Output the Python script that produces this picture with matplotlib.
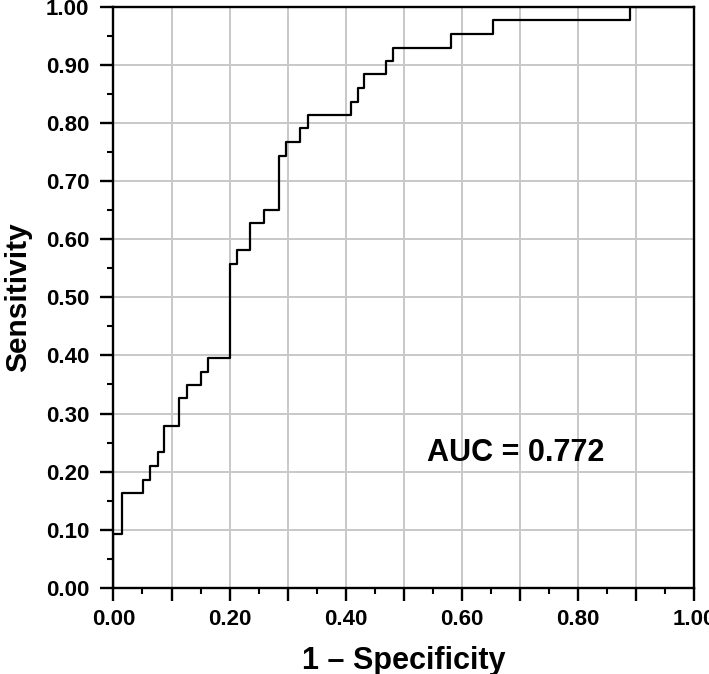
import numpy as np
import matplotlib
matplotlib.use("Agg")
import matplotlib.pyplot as plt
from matplotlib.ticker import MultipleLocator, FixedLocator, FixedFormatter

plt.rcParams['font.family'] = ['Liberation Sans', 'DejaVu Sans']

# ROC curve vertices (1 - specificity, sensitivity)
fpr = [0, 0, 0.014, 0.051, 0.063, 0.076, 0.087, 0.113, 0.126, 0.150, 0.162,
       0.200, 0.212, 0.236, 0.260, 0.285, 0.298, 0.322, 0.335, 0.409, 0.421,
       0.432, 0.470, 0.482, 0.581, 0.654, 0.889, 1.0]
tpr = [0, 0.093, 0.163, 0.186, 0.209, 0.233, 0.279, 0.326, 0.349, 0.372, 0.395,
       0.558, 0.581, 0.628, 0.651, 0.744, 0.767, 0.791, 0.814, 0.837, 0.860,
       0.884, 0.907, 0.930, 0.953, 0.977, 1.0, 1.0]
auc_text = "AUC = 0.772"

x_ticks = [i / 10 for i in range(11)]
x_labels = ["%.2f" % v if i % 2 == 0 else "" for i, v in enumerate(x_ticks)]
y_ticks = [i / 10 for i in range(11)]
y_labels = ["%.2f" % v for v in y_ticks]

fig = plt.figure(figsize=(7.09, 6.74), dpi=100)
ax = fig.add_axes([0.160, 0.128, 0.819, 0.8616])

ax.plot(fpr, tpr, drawstyle="steps-post", color="black", lw=1.6, zorder=3)

ax.set_xlim(0, 1)
ax.set_ylim(0, 1)
ax.xaxis.set_major_locator(FixedLocator(x_ticks))
ax.xaxis.set_major_formatter(FixedFormatter(x_labels))
ax.yaxis.set_major_locator(FixedLocator(y_ticks))
ax.yaxis.set_major_formatter(FixedFormatter(y_labels))
ax.xaxis.set_minor_locator(MultipleLocator(0.05))
ax.yaxis.set_minor_locator(MultipleLocator(0.05))

ax.grid(True, which="major", color="#c8c8c8", lw=1.4, zorder=0)
ax.set_axisbelow(True)

for s in ax.spines.values():
    s.set_linewidth(1.7)
    s.set_color("black")

ax.tick_params(which="major", direction="out", length=9.5, width=1.7,
               labelsize=16, pad=6)
ax.tick_params(axis="y", which="major", pad=8)
ax.tick_params(which="minor", direction="out", length=4.5, width=1.5)
for lab in ax.get_xticklabels() + ax.get_yticklabels():
    lab.set_fontweight("bold")

ax.set_xlabel("1 – Specificity", fontsize=22, fontweight="bold", labelpad=11)
ax.set_ylabel("Sensitivity", fontsize=21.5, fontweight="bold", labelpad=10)

ax.text(0.54, 0.232, auc_text, fontsize=22, fontweight="bold",
        ha="left", va="center")

fig.savefig("out.png", dpi=100)
